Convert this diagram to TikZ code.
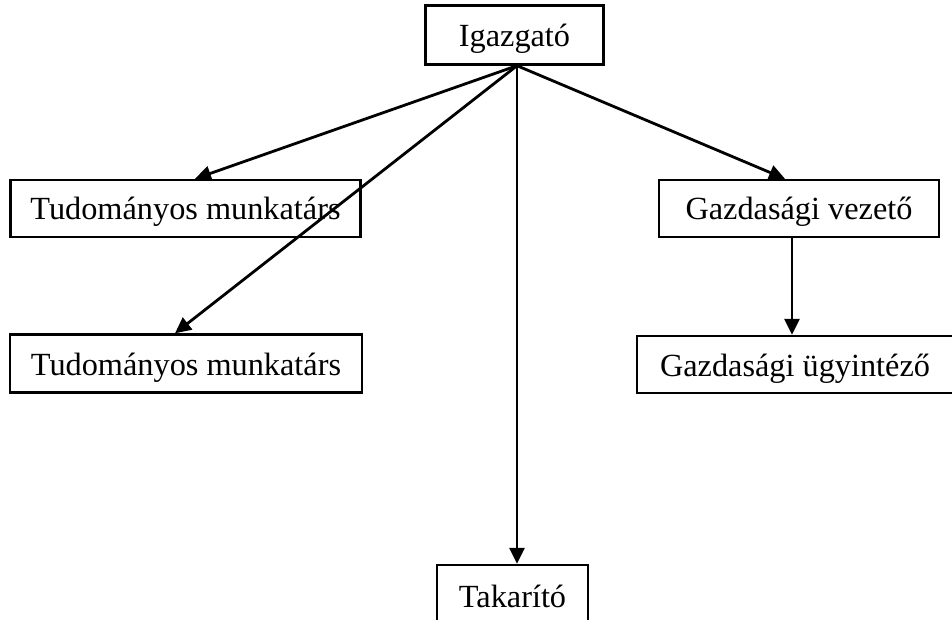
\documentclass[tikz,border=0pt]{standalone}
\usepackage{fontspec}
\setmainfont{Liberation Serif}
\usetikzlibrary{arrows.meta,positioning}

\begin{document}
\begin{tikzpicture}[x=1pt,y=-1pt,font=\fontsize{32.3}{38}\selectfont,
  box/.style={draw,line width=2.4pt,inner sep=0pt,minimum width=#1,text height=23pt,text depth=0pt},
  arr/.style={-{Triangle[length=16pt,width=15pt]},line width=2.8pt}]
\useasboundingbox (0,0) rectangle (952,620);
\node[box=178pt, minimum height=59pt] (igaz) at (514.5,35) {Igazgató};
\node[box=350pt, minimum height=57pt] (tud1) at (185.5,208.5) {Tudományos munkatárs};
\node[box=352pt, minimum height=58pt] (tud2) at (186,363.5) {Tudományos munkatárs};
\node[box=280pt, minimum height=57pt] (gvez) at (799,208.5) {Gazdasági vezető};
\node[box=316pt, minimum height=57pt] (gugy) at (795,364.5) {Gazdasági ügyintéző};
\node[box=151pt, minimum height=62pt] (tak) at (512.5,596) {Takarító};
\coordinate (hub) at ([xshift=2.5pt]igaz.south);
% connectors from the director
\draw[arr] (hub) -- ([xshift=9.5pt]tud1.north);
\draw[arr] (hub) -- ([xshift=-11pt]tud2.north);
\draw[arr] (hub) -- ([xshift=4.5pt]tak.north);
\draw[arr] (hub) -- ([xshift=-14pt]gvez.north);
\draw[arr] ([xshift=-7pt]gvez.south) -- ([xshift=-7pt]gvez.south |- gugy.north);
\end{tikzpicture}
\end{document}
